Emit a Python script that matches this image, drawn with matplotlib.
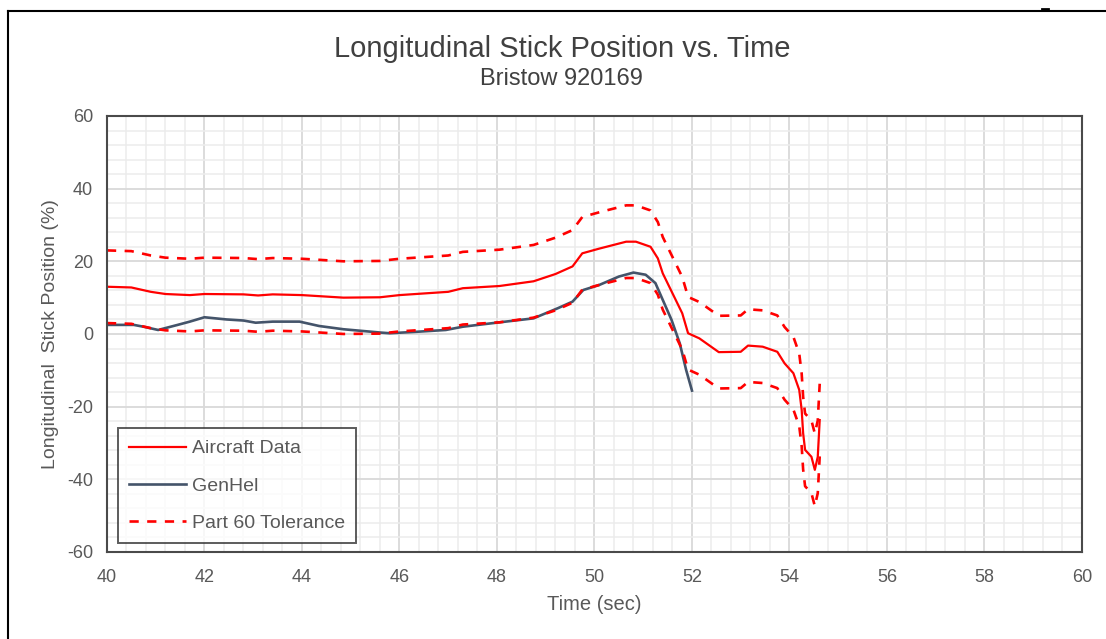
import matplotlib.pyplot as plt
import numpy as np
from matplotlib.lines import Line2D
from matplotlib.ticker import MultipleLocator

plt.rcParams['font.family'] = ['Liberation Sans', 'DejaVu Sans']
plt.rcParams['axes.unicode_minus'] = False

# time (sec)
t = [40.0, 40.5, 40.9, 41.2, 41.7, 42.0, 42.8, 43.1, 43.4, 44.0, 44.85, 45.6,
     46.0, 47.0, 47.3, 48.05, 48.75, 49.2, 49.55, 49.75, 50.1, 50.65, 50.85,
     51.15, 51.3, 51.4, 51.6, 51.8, 51.92, 52.15, 52.55, 53.0, 53.15, 53.45,
     53.75, 53.9, 54.08, 54.2, 54.25, 54.28, 54.32, 54.45, 54.52, 54.58, 54.62]

aircraft = [13.0, 12.8, 11.6, 11.0, 10.7, 11.0, 10.9, 10.6, 10.9, 10.7, 10.0, 10.1,
            10.7, 11.6, 12.6, 13.2, 14.5, 16.5, 18.6, 22.2, 23.5, 25.4, 25.4,
            24.0, 20.8, 16.7, 11.2, 5.7, 0.2, -1.2, -5.0, -4.9, -3.2, -3.5,
            -4.9, -8.1, -10.8, -15.4, -20.9, -27.3, -31.9, -33.8, -37.4, -33.8, -23.7]

tol_upper = [23.0, 22.8, 21.6, 21.0, 20.7, 21.0, 20.9, 20.6, 20.9, 20.7, 20.0, 20.1,
             20.7, 21.6, 22.6, 23.2, 24.5, 26.5, 28.6, 32.2, 33.5, 35.4, 35.4,
             34.0, 30.8, 26.7, 21.2, 15.7, 10.2, 8.8, 5.0, 5.1, 6.8, 6.5,
             5.1, 1.9, -0.8, -5.4, -10.9, -17.3, -21.9, -23.8, -27.4, -23.8, -13.7]

tol_lower = [3.0, 2.8, 1.6, 1.0, 0.7, 1.0, 0.9, 0.6, 0.9, 0.7, 0.0, 0.1,
             0.7, 1.6, 2.6, 3.2, 4.5, 6.5, 8.6, 12.2, 13.5, 15.4, 15.4,
             14.0, 10.8, 6.7, 1.2, -4.3, -9.8, -11.2, -15.0, -14.9, -13.2, -13.5,
             -14.9, -18.1, -20.8, -25.4, -30.9, -37.3, -41.9, -43.8, -47.4, -43.8, -33.7]

t_genhel = [40.0, 40.55, 40.75, 41.05, 41.45, 41.7, 42.0, 42.45, 42.8, 43.05, 43.4,
            43.95, 44.35, 44.85, 45.6, 45.8, 46.35, 46.95, 47.3, 48.05, 48.75,
            49.25, 49.55, 49.77, 50.1, 50.5, 50.8, 51.05, 51.25, 51.4, 51.58,
            51.75, 51.88, 52.0]
genhel = [2.5, 2.5, 2.0, 1.1, 2.5, 3.4, 4.6, 4.0, 3.7, 3.1, 3.4,
          3.4, 2.2, 1.3, 0.4, 0.2, 0.6, 1.1, 2.0, 3.2, 4.3,
          7.1, 8.9, 12.1, 13.5, 15.8, 16.9, 16.3, 14.0, 9.4, 3.9,
          -2.6, -9.9, -15.6]

fig = plt.figure(figsize=(11.06, 6.39), dpi=100)
ax = fig.add_axes([0.0967, 0.1362, 0.8816, 0.6823])

ax.plot(t, aircraft, color='#ff0000', lw=1.6, label='Aircraft Data')
ax.plot(t_genhel, genhel, color='#44546a', lw=1.9, label='GenHel')
ax.plot(t, tol_upper, color='#ff0000', lw=1.9, ls=(0, (3.5, 3.2)),
        label='Part 60 Tolerance')
ax.plot(t, tol_lower, color='#ff0000', lw=1.9, ls=(0, (3.5, 3.2)))

ax.set_xlim(40, 60)
ax.set_ylim(-60, 60)
ax.xaxis.set_major_locator(MultipleLocator(2))
ax.xaxis.set_minor_locator(MultipleLocator(0.4))
ax.yaxis.set_major_locator(MultipleLocator(20))
ax.yaxis.set_minor_locator(MultipleLocator(4))
ax.grid(which='minor', color='#ececec', lw=1.1)
ax.grid(which='major', color='#d9d9d9', lw=1.3)
ax.set_axisbelow(True)
ax.tick_params(which='both', length=0)
ax.tick_params(axis='x', pad=12, labelsize=13, labelcolor='#595959')
ax.tick_params(axis='y', pad=10, labelsize=13, labelcolor='#595959')
for s in ax.spines.values():
    s.set_color('#4a4a4a')
    s.set_linewidth(1.5)

ax.set_xlabel('Time (sec)', fontsize=14.5, color='#595959', labelpad=7)
ax.set_ylabel('Longitudinal  Stick Position (%)', fontsize=14, color='#595959',
              labelpad=6)

fig.text(0.508, 0.924, 'Longitudinal Stick Position vs. Time', ha='center',
         va='center', fontsize=21, color='#404040')
fig.text(0.508, 0.876, 'Bristow 920169', ha='center', va='center',
         fontsize=17, color='#404040')

leg = ax.legend(loc='lower left', bbox_to_anchor=(0.011, 0.02), fontsize=14,
                frameon=True, fancybox=False, handlelength=2.9,
                handletextpad=0.3, labelspacing=1.0, borderpad=0.6,
                borderaxespad=0)
leg.get_frame().set_edgecolor('#333333')
leg.get_frame().set_linewidth(1.4)
for txt in leg.get_texts():
    txt.set_color('#595959')

# border lines around the sheet
fig.add_artist(Line2D([8 / 1106, 8 / 1106], [0, 1 - 11 / 639],
                      transform=fig.transFigure, color='black', lw=1.5))
fig.add_artist(Line2D([8 / 1106, 1], [1 - 11 / 639, 1 - 11 / 639],
                      transform=fig.transFigure, color='black', lw=1.5))
fig.add_artist(Line2D([1042 / 1106, 1048 / 1106], [1 - 9 / 639, 1 - 9 / 639],
                      transform=fig.transFigure, color='black', lw=2))

fig.savefig('out.png', dpi=100)
